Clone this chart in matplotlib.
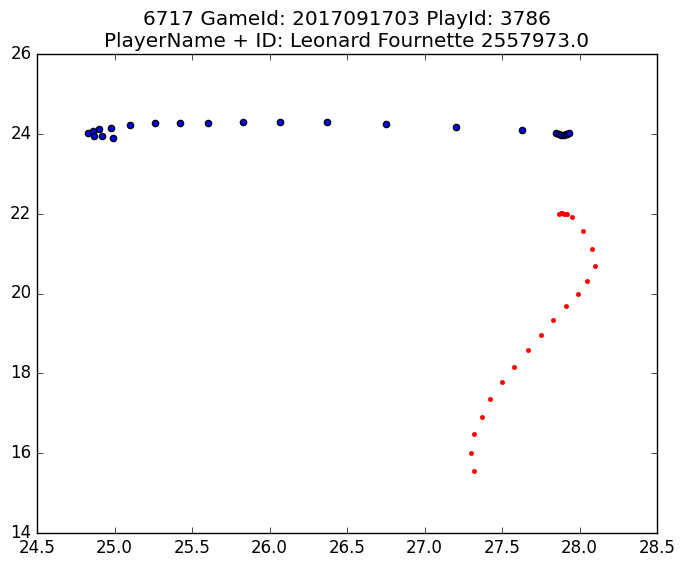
import matplotlib
matplotlib.use('Agg')
import matplotlib.pyplot as plt

plt.style.use('classic')

# player 6717 track (blue) and second track (red)
blue_x = [24.83, 24.86, 24.87, 24.90, 24.92, 24.98, 24.99, 25.10, 25.26, 25.42,
          25.60, 25.83, 26.07, 26.37, 26.75, 27.20, 27.63,
          27.85, 27.87, 27.88, 27.90, 27.91, 27.92, 27.93]
blue_y = [24.01, 24.06, 23.95, 24.12, 23.94, 24.14, 23.89, 24.21, 24.26, 24.26,
          24.26, 24.29, 24.30, 24.29, 24.24, 24.16, 24.10,
          24.03, 23.99, 23.98, 23.98, 24.00, 24.00, 24.01]

red_x = [27.87, 27.88, 27.89, 27.90, 27.91, 27.92, 27.95, 28.02, 28.08, 28.10,
         28.05, 27.99, 27.91, 27.83, 27.75, 27.67, 27.58, 27.50, 27.42, 27.37,
         27.32, 27.30, 27.32]
red_y = [22.00, 22.01, 22.01, 22.00, 22.00, 21.99, 21.91, 21.56, 21.11, 20.68,
         20.31, 19.98, 19.68, 19.33, 18.95, 18.58, 18.17, 17.78, 17.35, 16.90,
         16.47, 16.00, 15.55]

title = '6717 GameId: 2017091703 PlayId: 3786\nPlayerName + ID: Leonard Fournette 2557973.0'

fig = plt.figure(figsize=(6.85, 5.67), dpi=100)
ax = fig.add_axes([37 / 685, 34 / 567, 620 / 685, 479 / 567])

ax.scatter(blue_x, blue_y, c='b', s=20)
ax.plot(red_x, red_y, 'r.', linestyle='none')

ax.set_xlim(24.5, 28.5)
ax.set_ylim(14, 26)
ax.set_title(title, fontsize=14.4)

fig.savefig('out.png', dpi=100)
